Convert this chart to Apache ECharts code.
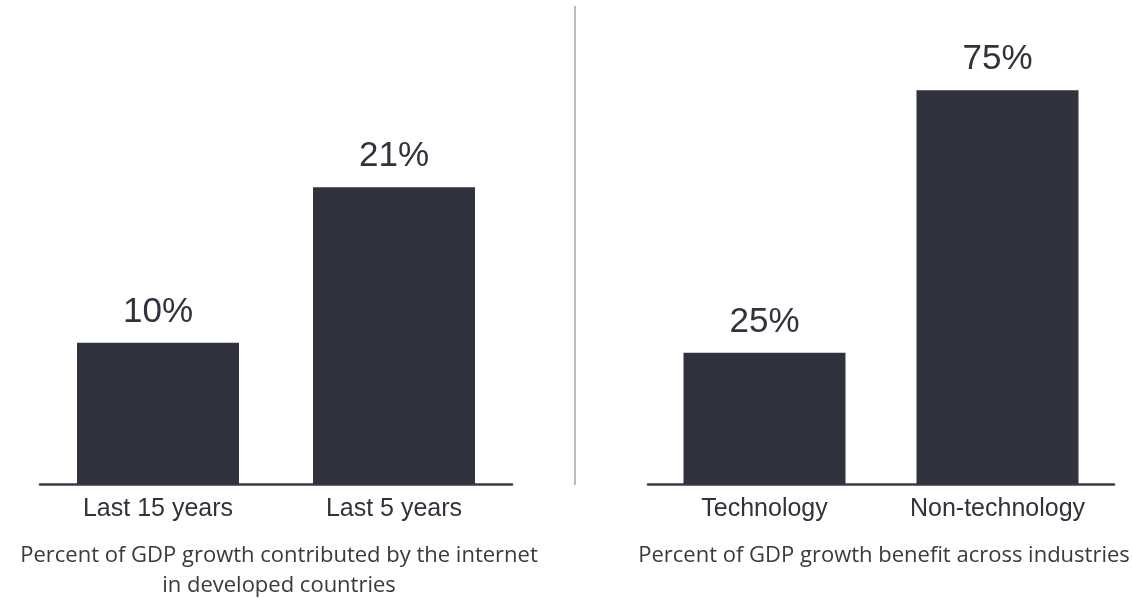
<!DOCTYPE html>
<html lang="en">
<head>
    <meta charset="UTF-8">
    <title>Internet and GDP growth</title>
    <script src="https://cdn.jsdelivr.net/npm/echarts@6/dist/echarts.min.js"></script>
    <style>
        html, body { margin: 0; padding: 0; background: #fff; }
        #chart { width: 1133px; height: 598px; }
    </style>
</head>
<body>
    <div id="chart"></div>

    <script>
        // left panel: internet share of GDP growth
        const leftCategories = ['Last 15 years', 'Last 5 years'];
        const leftValues = [10, 21];
        const leftCaption = 'Percent of GDP growth contributed by the internet\nin developed countries';

        // right panel: benefit by industry
        const rightCategories = ['Technology', 'Non-technology'];
        const rightValues = [25, 75];
        const rightCaption = 'Percent of GDP growth benefit across industries';

        const barColor = '#30333e';
        const textColor = '#30333e';
        const labelFont = 'Liberation Sans, Arial, sans-serif';
        const captionFont = 'Open Sans, Noto Sans, sans-serif';

        function makeX(idx, data) {
            return {
                type: 'category',
                gridIndex: idx,
                data: data,
                axisTick: { show: false },
                axisLine: { lineStyle: { color: '#3a3d48', width: 2.5 } },
                axisLabel: { color: textColor, fontSize: 25, fontFamily: labelFont, margin: 13 }
            };
        }

        function makeY(idx, max) {
            return {
                type: 'value',
                gridIndex: idx,
                min: 0,
                max: max,
                show: false,
                splitLine: { show: false }
            };
        }

        function makeBars(idx, values) {
            return {
                type: 'bar',
                xAxisIndex: idx,
                yAxisIndex: idx,
                data: values,
                barWidth: 162,
                itemStyle: { color: barColor },
                label: {
                    show: true,
                    position: 'top',
                    distance: 13,
                    formatter: '{c}%',
                    color: textColor,
                    fontSize: 35,
                    fontFamily: labelFont
                },
                silent: true
            };
        }

        const chart = echarts.init(document.getElementById('chart'));

        const option = {
            animation: false,
            grid: [
                { left: 40, width: 472, top: 60, height: 424 },
                { left: 648, width: 466, top: 64, height: 420 }
            ],
            xAxis: [makeX(0, leftCategories), makeX(1, rightCategories)],
            yAxis: [makeY(0, 30), makeY(1, 80)],
            series: [makeBars(0, leftValues), makeBars(1, rightValues)],
            title: [
                {
                    text: leftCaption,
                    left: 274, top: 536, textAlign: 'center',
                    textStyle: { color: '#3a3a3a', fontSize: 22, fontWeight: 'normal', fontFamily: captionFont, lineHeight: 30 }
                },
                {
                    text: rightCaption,
                    left: 879, top: 536, textAlign: 'center',
                    textStyle: { color: '#3a3a3a', fontSize: 22, fontWeight: 'normal', fontFamily: captionFont, lineHeight: 30 }
                }
            ],
            graphic: [
                {
                    type: 'line',
                    shape: { x1: 575, y1: 6, x2: 575, y2: 485 },
                    style: { stroke: '#bdbdbd', lineWidth: 2 }
                }
            ]
        };

        chart.setOption(option);
    </script>
</body>
</html>
